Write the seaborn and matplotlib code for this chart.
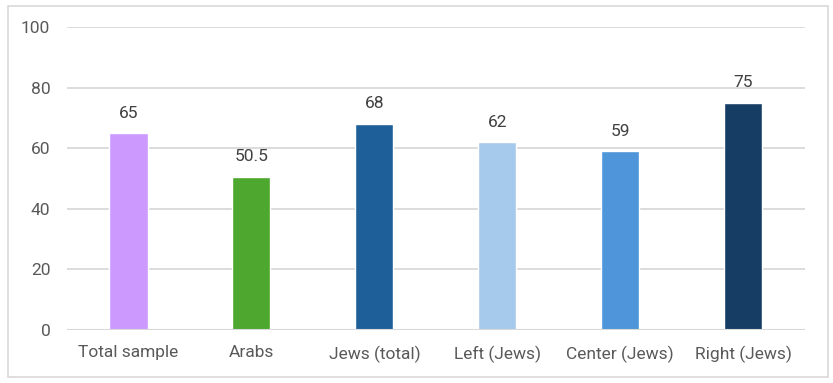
import matplotlib
matplotlib.use("Agg")
import matplotlib.pyplot as plt
import matplotlib.patches as mpatches
import seaborn as sns
import pandas as pd

# chart data
categories = ["Total sample", "Arabs", "Jews (total)", "Left (Jews)", "Center (Jews)", "Right (Jews)"]
values = [65, 50.5, 68, 62, 59, 75]
value_labels = ["65", "50.5", "68", "62", "59", "75"]
bar_colors = ["#CC99FF", "#4EA72E", "#1F5F99", "#A6CAEC", "#4E95D9", "#163E64"]
y_ticks = [0, 20, 40, 60, 80, 100]

df = pd.DataFrame({"group": categories, "value": values})

sns.set_style("white")
plt.rcParams["font.family"] = ["Roboto", "DejaVu Sans"]

fig = plt.figure(figsize=(8.33, 3.83), dpi=100)
ax = fig.add_axes([0.0804, 0.1384, 0.8856, 0.7911])

sns.barplot(data=df, x="group", y="value", hue="group", palette=bar_colors,
            width=0.31, legend=False, saturation=1, ax=ax)

ax.set_ylim(0, 100)
ax.set_xlim(-0.5, len(categories) - 0.5)
ax.set_yticks(y_ticks)
ax.set_yticklabels([str(t) for t in y_ticks])
ax.yaxis.grid(True, color="#D9D9D9", linewidth=1.3)
ax.set_axisbelow(True)
for s in ax.spines.values():
    s.set_visible(False)
ax.axhline(0, color="#D9D9D9", linewidth=1.5, zorder=1)

ax.tick_params(axis="both", length=0, labelsize=12.5, labelcolor="#595959")
ax.tick_params(axis="x", pad=11)
ax.tick_params(axis="y", pad=12)
ax.set_xlabel("")
ax.set_ylabel("")

# value labels above bars
for i, (v, lab) in enumerate(zip(values, value_labels)):
    ax.annotate(lab, (i, v), xytext=(0, 9), textcoords="offset points",
                ha="center", va="bottom", fontsize=12.5, color="#404040")

# outer chart border
fig.patches.append(mpatches.Rectangle((8 / 833, 6 / 383), 820 / 833, 371 / 383,
                                      transform=fig.transFigure, fill=False,
                                      edgecolor="#D9D9D9", linewidth=1.2))

fig.savefig("out.png", dpi=100)
